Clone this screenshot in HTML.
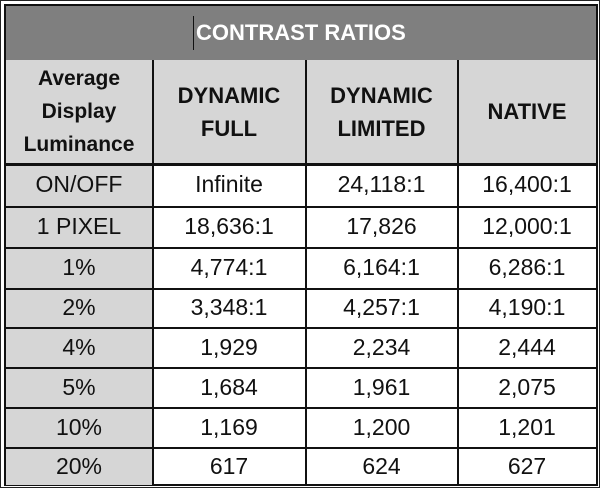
<!DOCTYPE html>
<html><head><meta charset="utf-8"><style>
*{margin:0;padding:0;box-sizing:border-box}
body{width:600px;height:488px;background:#fff;position:relative;overflow:hidden;font-family:"Liberation Sans",Arial,sans-serif;color:#111}
.c{position:absolute;display:flex;align-items:center;justify-content:center;text-align:center;font-size:23px}
.h{font-weight:bold;line-height:33px;font-size:22px}
.g{background:#d6d6d6}
.v{position:absolute;background:#111}
</style></head><body>
<div style="position:absolute;left:0;top:0;width:600px;height:488px;border:1px solid #222"></div>
<div style="position:absolute;left:4px;top:4px;width:594px;height:482px;border:2px solid #111;background:#fff"></div>
<div class="c" style="left:6px;top:6px;width:590px;height:54px;background:#7f7f7f;color:#fff;font-weight:bold;font-size:22px;justify-content:flex-start;padding-left:190px">CONTRAST RATIOS</div>
<div class="v" style="left:193px;top:16px;width:1px;height:34px"></div>
<div class="c g h" style="left:6px;top:60px;width:146px;height:103px;font-size:21px">Average<br>Display<br>Luminance</div>
<div class="c g h" style="left:153px;top:60px;width:152px;height:103px">DYNAMIC<br>FULL</div>
<div class="c g h" style="left:306px;top:60px;width:151px;height:103px">DYNAMIC<br>LIMITED</div>
<div class="c g h" style="left:458px;top:60px;width:138px;height:103px">NATIVE</div>
<div id="rows"></div>
<script>
var ys=[163,206,247,288,327,367,407,447,485];
var d=[["ON/OFF","Infinite","24,118:1","16,400:1"],["1 PIXEL","18,636:1","17,826","12,000:1"],["1%","4,774:1","6,164:1","6,286:1"],["2%","3,348:1","4,257:1","4,190:1"],["4%","1,929","2,234","2,444"],["5%","1,684","1,961","2,075"],["10%","1,169","1,200","1,201"],["20%","617","624","627"]];
var xs=[6,152,305,457,596],h="";
for(var i=0;i<8;i++){for(var j=0;j<4;j++){h+='<div class="c'+(j==0?' g':'')+'" style="left:'+(xs[j]+(j?1:0))+'px;top:'+ys[i]+'px;width:'+(xs[j+1]-xs[j]-(j?1:0))+'px;height:'+(ys[i+1]-ys[i])+'px">'+d[i][j]+'</div>';}
h+='<div class="v" style="left:6px;top:'+ys[i]+'px;width:590px;height:'+(i==0?3:2)+'px"></div>';}
for(var j=1;j<4;j++)h+='<div class="v" style="left:'+xs[j]+'px;top:60px;width:2px;height:425px"></div>';
document.getElementById('rows').innerHTML=h;
</script>
</body></html>
